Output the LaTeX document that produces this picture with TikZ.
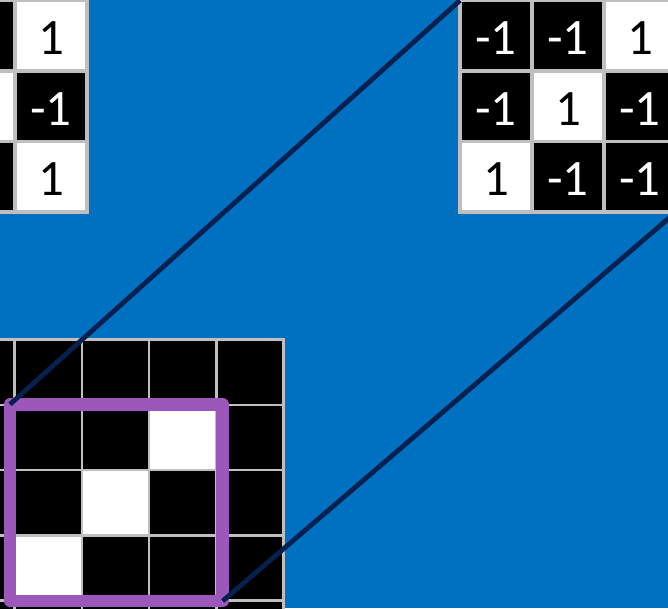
\documentclass[tikz,border=0pt]{standalone}
\usepackage{fontspec}
\setmainfont{Carlito}
\usepackage{xcolor}
\usepackage{tikz}
\definecolor{bgblue}{HTML}{0070C0}
\definecolor{gridgray}{HTML}{BFBFBF}
\definecolor{winpurple}{HTML}{9B57BA}
\definecolor{linknavy}{HTML}{06204F}

\begin{document}
\begin{tikzpicture}[x=1pt,y=-1pt,
  cell/.style={draw=gridgray, line width=3.5pt, inner sep=0pt, outer sep=0pt,
    minimum width=72pt, minimum height=70.5pt, text height=38pt,
    font=\fontsize{51}{51}\selectfont},
  v1/.style={fill=white, text=black},
  v-1/.style={fill=black, text=white},
  pix/.style={draw=gridgray, line width=2.5pt, fill=black, inner sep=0pt,
    outer sep=0pt, minimum width=67.25pt, minimum height=65.25pt},
  link/.style={draw=linknavy, line width=4.8pt}]
\useasboundingbox (0,0) rectangle (668,608);
\clip (0,0) rectangle (668,608);
\fill[bgblue] (0,0) rectangle (668,608);

% image, black pixels first
\foreach \r in {1,...,5}
  \foreach \c in {0,...,4}
    \node[pix] (img-\r-\c) at (14.5+67.25*\c-33.625, 339.5+65.25*\r-32.625) {};
\foreach \r/\c in {2/3, 3/2, 4/1}
  \node[pix, fill=white] (img-\r-\c) at (14.5+67.25*\c-33.625, 339.5+65.25*\r-32.625) {};

% left grid, only its right columns are in view
\foreach \r/\v in {1/-1, 2/1, 3/-1}
  \node[cell, v\v] (fl-\r-2) at (-21, 70.5*\r-34.75) {};
\foreach \r/\v in {1/1, 2/-1, 3/1}
  \node[cell, v\v] (fl-\r-3) at (51, 70.5*\r-34.75) {\v};

% right grid
\foreach \r/\vals in {1/{-1,-1,1}, 2/{-1,1,-1}, 3/{1,-1,-1}}
  \foreach \v [count=\c] in \vals
    \node[cell, v\v] (fr-\r-\c) at (424+72*\c, 70.5*\r-34.75) {\v};

% window on the image
\node[draw=winpurple, line width=12.5pt, line join=round, inner sep=0pt,
  outer sep=0pt, minimum width=212.7pt, minimum height=196.7pt]
  (win) at (116.35, 502.65) {};

\draw[link] (win.north west) -- (fr-1-1.north west);
\draw[link] (win.south east) -- (fr-3-3.south east);
\end{tikzpicture}
\end{document}
